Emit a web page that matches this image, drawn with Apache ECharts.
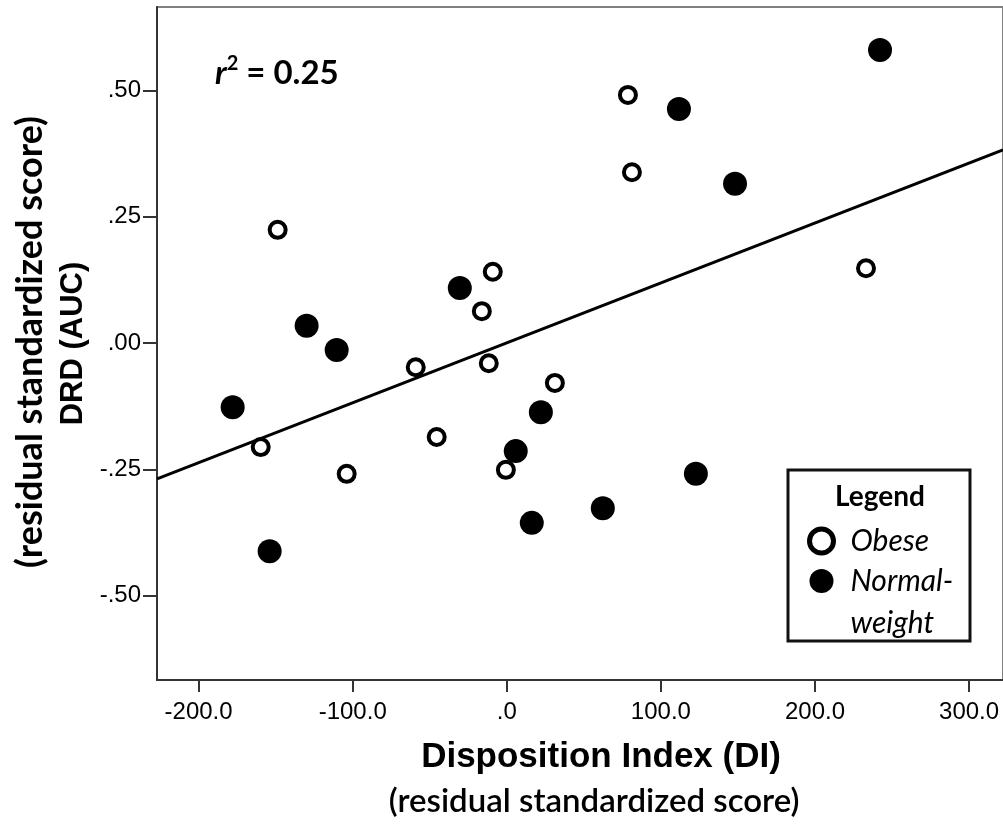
<!DOCTYPE html>
<html>
<head>
<meta charset="utf-8">
<script src="https://cdn.jsdelivr.net/npm/echarts@6/dist/echarts.min.js"></script>
<style>html,body{margin:0;padding:0;background:#fff;}#c{width:1003px;height:826px;}</style>
</head>
<body>
<div id="c"></div>
<script>
// Obese (open circles)
const obeseX = [-148.7, -159.7, -103.9, -59.1, -45.5, -16.2, -9.1, -11.7, -0.6, 31.2, 78.6, 81.2, 233.1];
const obeseY = [0.224, -0.206, -0.259, -0.048, -0.186, 0.063, 0.141, -0.040, -0.251, -0.079, 0.491, 0.338, 0.148];
// Normal-weight (filled circles)
const normalX = [-177.9, -153.9, -129.9, -110.4, -30.5, 5.8, 22.1, 16.2, 62.3, 111.7, 122.7, 148.1, 242.2];
const normalY = [-0.127, -0.412, 0.034, -0.014, 0.109, -0.214, -0.137, -0.356, -0.327, 0.463, -0.259, 0.315, 0.580];
// Fit line end points
const fitX = [-227, 322];
const fitY = [-0.269, 0.382];
// Ticks
const xTickValues = [-200, -100, 0, 100, 200, 300];
const xTickLabels = ['-200.0', '-100.0', '.0', '100.0', '200.0', '300.0'];
const yTickValues = [-0.5, -0.25, 0, 0.25, 0.5];
const yTickLabels = ['-.50', '-.25', '.00', '.25', '.50'];

const zip = (a, b) => a.map((v, i) => [v, b[i]]);
const chart = echarts.init(document.getElementById('c'), null, {renderer: 'canvas'});
const AR = 'Liberation Sans';
const CA = 'Lato';

chart.setOption({
  backgroundColor: '#fff',
  animation: false,
  grid: {left: 157, top: 7, right: -3, bottom: 146, show: true, borderColor: '#808080', borderWidth: 2},
  xAxis: {
    type: 'value', min: -227, max: 322,
    splitLine: {show: false},
    axisLine: {show: true, onZero: false, lineStyle: {color: '#333', width: 2}},
    axisTick: {show: true, length: 12, customValues: xTickValues, lineStyle: {color: '#333', width: 2}},
    axisLabel: {customValues: xTickValues, margin: 20, fontFamily: AR, fontSize: 24, color: '#000',
      formatter: v => xTickLabels[xTickValues.indexOf(v)]}
  },
  yAxis: {
    type: 'value', min: -0.667, max: 0.665,
    splitLine: {show: false},
    axisLine: {show: true, onZero: false, lineStyle: {color: '#333', width: 2}},
    axisTick: {show: true, length: 14, customValues: yTickValues, lineStyle: {color: '#333', width: 2}},
    axisLabel: {customValues: yTickValues, margin: 16, fontFamily: AR, fontSize: 24, color: '#000',
      formatter: v => yTickLabels[yTickValues.indexOf(v)]},
    name: 'DRD (AUC)', nameLocation: 'middle', nameRotate: 90, nameGap: 64,
    nameTextStyle: {fontFamily: AR, fontWeight: 'bold', fontSize: 31, color: '#000'}
  },
  legend: {
    orient: 'vertical', left: 802, top: 513, itemWidth: 24, itemHeight: 24, itemGap: -44,
    selectedMode: false,
    textStyle: {fontFamily: CA, fontStyle: 'italic', fontSize: 30, color: '#000', lineHeight: 42,
      rich: {e: {fontSize: 30, lineHeight: 42}, t: {fontFamily: CA, fontStyle: 'italic', fontSize: 30, lineHeight: 42, padding: [0, 0, 0, 12], color: '#000'}}},
    formatter: n => n === 'Normal-weight' ? '{e| }\n{t|Normal-}\n{t|weight}' : '{t|' + n + '}',
    data: [
      {name: 'Obese', itemStyle: {color: '#fff', borderColor: '#000', borderWidth: 5}},
      {name: 'Normal-weight', itemStyle: {color: '#000', borderWidth: 0}}
    ]
  },
  graphic: [
    {type: 'rect', shape: {x: 788, y: 470, width: 182, height: 171}, z: 1,
      style: {fill: '#fff', stroke: '#111', lineWidth: 3}},
    {type: 'text', x: 880, y: 497, z: 2, style: {text: 'Legend', font: 'bold 28px Lato', fill: '#000', textAlign: 'center', textVerticalAlign: 'middle'}},
    {type: 'text', x: 215, y: 73, z: 5, style: {
      text: '{i|r}{s|2}{b| = 0.25}', textVerticalAlign: 'middle',
      rich: {
        i: {fontFamily: CA, fontWeight: 'bold', fontStyle: 'italic', fontSize: 33, fill: '#000', lineHeight: 38},
        s: {fontFamily: CA, fontWeight: 'bold', fontSize: 20, fill: '#000', verticalAlign: 'top', lineHeight: 38, padding: [0, 0, 14, 0]},
        b: {fontFamily: CA, fontWeight: 'bold', fontSize: 33, fill: '#000', lineHeight: 38}
      }}},
    {type: 'text', x: 601, y: 757, style: {text: 'Disposition Index (DI)', font: 'bold 35px "Liberation Sans"', fill: '#000', textAlign: 'center', textVerticalAlign: 'middle'}},
    {type: 'text', x: 594, y: 801, style: {text: '(residual standardized score)', font: '600 33px Lato', fill: '#000', textAlign: 'center', textVerticalAlign: 'middle'}},
    {type: 'text', x: 30, y: 342, rotation: Math.PI / 2, style: {text: '(residual standardized score)', font: 'bold 36px Lato', fill: '#000', textAlign: 'center', textVerticalAlign: 'middle'}}
  ],
  series: [
    {name: 'Fit', type: 'line', data: zip(fitX, fitY), symbol: 'none', silent: true,
      lineStyle: {color: '#000', width: 3}, z: 2},
    {name: 'Obese', type: 'scatter', data: zip(obeseX, obeseY), symbol: 'circle', symbolSize: 16,
      itemStyle: {color: '#fff', borderColor: '#000', borderWidth: 4, opacity: 1}, z: 3},
    {name: 'Normal-weight', type: 'scatter', data: zip(normalX, normalY), symbol: 'circle', symbolSize: 24,
      itemStyle: {color: '#000', opacity: 1}, z: 3}
  ]
});
</script>
</body>
</html>
